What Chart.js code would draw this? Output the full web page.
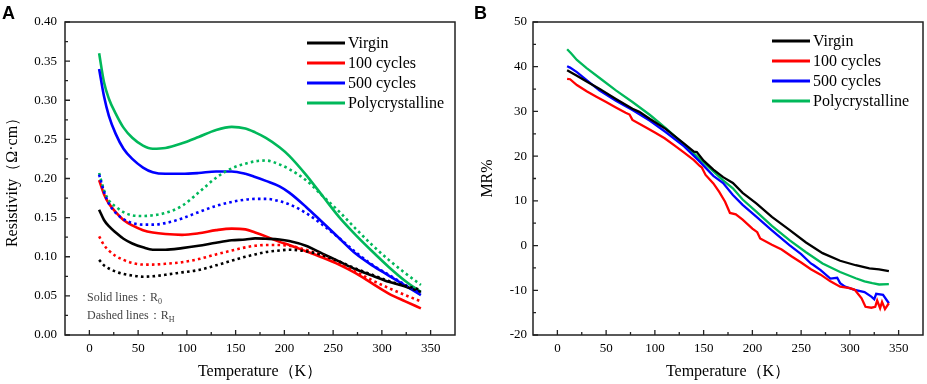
<!DOCTYPE html>
<html>
<head>
<meta charset="utf-8">
<script src="https://cdn.jsdelivr.net/npm/chart.js@4.4.1/dist/chart.umd.min.js"></script>
<style>
  html,body{margin:0;padding:0;background:#fff;}
  body{width:927px;height:384px;position:relative;overflow:hidden;}
  .panel{position:absolute;top:0;}
  .tag{position:absolute;top:3px;line-height:18px;font:bold 18px "Liberation Sans",Arial,sans-serif;color:#000;z-index:2;}
</style>
</head>
<body>
<div class="tag" style="left:2px">A</div>
<div class="tag" style="left:474px">B</div>
<canvas id="chartA" class="panel" style="left:0" width="463" height="384"></canvas>
<canvas id="chartB" class="panel" style="left:463px" width="464" height="384"></canvas>
<script>
// ---- panel A : resistivity vs temperature (solid = R0, dotted = RH)
const tempR = [10, 15, 20, 27, 35, 44, 55, 65, 78, 95, 112, 130, 146, 160, 170, 181, 195, 205, 222, 239, 256, 273, 290, 307, 324, 340];
const virginR0 = [0.160, 0.147, 0.139, 0.131, 0.123, 0.117, 0.112, 0.109, 0.109, 0.111, 0.114, 0.118, 0.121, 0.122, 0.1235, 0.123, 0.122, 0.120, 0.114, 0.104, 0.094, 0.084, 0.076, 0.068, 0.062, 0.055];
const virginRH = [0.096, 0.089, 0.085, 0.081, 0.078, 0.076, 0.0745, 0.075, 0.077, 0.080, 0.083, 0.089, 0.095, 0.100, 0.103, 0.106, 0.108, 0.109, 0.107, 0.102, 0.094, 0.085, 0.077, 0.069, 0.063, 0.0575];
const c100R0 = [0.198, 0.180, 0.168, 0.157, 0.147, 0.140, 0.134, 0.131, 0.129, 0.128, 0.130, 0.134, 0.136, 0.135, 0.131, 0.126, 0.119, 0.115, 0.107, 0.099, 0.090, 0.079, 0.066, 0.053, 0.043, 0.034];
const c100RH = [0.126, 0.115, 0.108, 0.101, 0.096, 0.092, 0.090, 0.090, 0.091, 0.093, 0.097, 0.103, 0.108, 0.112, 0.114, 0.115, 0.115, 0.114, 0.109, 0.102, 0.092, 0.081, 0.070, 0.060, 0.051, 0.043];
const c500R0 = [0.340, 0.305, 0.280, 0.257, 0.238, 0.225, 0.214, 0.208, 0.206, 0.206, 0.207, 0.209, 0.209, 0.206, 0.202, 0.197, 0.190, 0.182, 0.164, 0.144, 0.124, 0.104, 0.089, 0.076, 0.063, 0.051];
const c500RH = [0.205, 0.183, 0.168, 0.156, 0.148, 0.143, 0.141, 0.141, 0.143, 0.149, 0.157, 0.165, 0.170, 0.173, 0.174, 0.174, 0.171, 0.167, 0.156, 0.141, 0.124, 0.106, 0.090, 0.077, 0.064, 0.053];
const polyR0 = [0.360, 0.323, 0.302, 0.283, 0.265, 0.252, 0.242, 0.238, 0.239, 0.245, 0.253, 0.262, 0.266, 0.264, 0.259, 0.252, 0.240, 0.229, 0.205, 0.178, 0.151, 0.128, 0.107, 0.087, 0.069, 0.055];
const polyRH = [0.207, 0.185, 0.172, 0.164, 0.157, 0.153, 0.152, 0.153, 0.156, 0.165, 0.182, 0.201, 0.213, 0.219, 0.222, 0.223, 0.218, 0.212, 0.198, 0.178, 0.158, 0.136, 0.115, 0.096, 0.079, 0.064];

// ---- panel B : MR% vs temperature
const mrTempVirgin = [10, 20, 30, 43, 60, 77, 84, 95, 111, 130, 140, 143, 150, 160, 170, 180, 190, 204, 220, 238, 255, 272, 290, 306, 320, 330, 340];
const mrVirgin = [39.2, 38.0, 36.7, 35.1, 32.8, 30.6, 29.9, 28.3, 26.1, 22.8, 21.0, 20.9, 19.0, 17.0, 15.3, 14.0, 11.8, 9.45, 6.4, 3.5, 0.7, -1.7, -3.4, -4.4, -5.1, -5.3, -5.7];
const mrTemp100 = [10, 13, 20, 30, 40, 50, 60, 70, 74, 77, 90, 100, 110, 120, 130, 140, 146, 148, 152, 160, 166, 172, 177, 183, 190, 200, 205, 208, 220, 230, 240, 250, 260, 270, 280, 290, 300, 305, 312, 316, 322, 326, 328, 331, 333, 336, 340];
const mr100 = [37.3, 37.2, 35.9, 34.5, 33.3, 32.1, 30.9, 29.7, 29.3, 28.1, 26.5, 25.3, 24.0, 22.4, 20.8, 19.1, 17.8, 17.5, 15.8, 13.9, 12.0, 9.8, 7.3, 7.0, 5.8, 3.8, 3.0, 1.6, 0.2, -0.9, -2.4, -3.8, -5.3, -6.5, -8.0, -9.2, -9.5, -9.9, -11.8, -13.7, -13.9, -13.7, -12.3, -14.0, -12.6, -14.2, -12.9];
const mrTemp500 = [10, 13, 20, 30, 43, 60, 77, 95, 111, 130, 145, 160, 170, 180, 190, 204, 220, 238, 250, 260, 263, 270, 280, 287, 290, 295, 305, 315, 322, 325, 327, 334, 340];
const mr500 = [40.1, 39.8, 38.8, 37.0, 34.7, 32.4, 30.3, 27.9, 25.4, 22.2, 19.0, 15.6, 14.0, 11.3, 9.1, 6.45, 3.4, 0.1, -1.9, -4.0, -4.4, -5.5, -7.4, -7.2, -8.4, -9.2, -9.9, -10.4, -11.4, -12.0, -10.8, -11.0, -12.9];
const mrTempPoly = [10, 14, 20, 30, 45, 60, 77, 95, 112, 130, 146, 160, 170, 180, 190, 204, 220, 238, 255, 272, 290, 306, 315, 323, 330, 340];
const mrPoly = [43.9, 43.0, 41.5, 39.7, 37.2, 34.7, 32.1, 29.2, 26.1, 22.6, 19.4, 16.6, 14.6, 12.8, 10.3, 7.6, 4.4, 1.2, -1.5, -4.0, -5.9, -7.3, -8.0, -8.4, -8.7, -8.6];

const seriesNames = ['Virgin', '100 cycles', '500 cycles', 'Polycrystalline'];
const seriesColors = ['#000000', '#ff0000', '#0000ff', '#00b85a'];
const xTicks = [0, 50, 100, 150, 200, 250, 300, 350];
const rhoTicks = [0, 0.05, 0.10, 0.15, 0.20, 0.25, 0.30, 0.35, 0.40];
const mrTicks = [-20, -10, 0, 10, 20, 30, 40, 50];

const serif = '"Liberation Serif", "Times New Roman", serif';
const pts = (xs, ys) => xs.map((x, i) => ({ x: x, y: ys[i] }));

// box around the plot + inward major/minor ticks
const frameTicks = {
  id: 'frameTicks',
  afterDraw(chart) {
    const { ctx, chartArea: a, scales: { x, y } } = chart;
    ctx.save();
    ctx.strokeStyle = '#222';
    ctx.lineWidth = 1.5;
    ctx.strokeRect(a.left, a.top, a.right - a.left, a.bottom - a.top);
    ctx.lineWidth = 1.3;
    const xv = x.ticks.map(t => t.value), yv = y.ticks.map(t => t.value);
    const mids = vs => vs.slice(1).map((v, i) => (v + vs[i]) / 2);
    ctx.beginPath();
    xv.forEach(v => { const p = x.getPixelForValue(v); ctx.moveTo(p, a.bottom); ctx.lineTo(p, a.bottom - 5); });
    mids(xv).forEach(v => { const p = x.getPixelForValue(v); ctx.moveTo(p, a.bottom); ctx.lineTo(p, a.bottom - 3); });
    yv.forEach(v => { const p = y.getPixelForValue(v); ctx.moveTo(a.left, p); ctx.lineTo(a.left + 5, p); });
    mids(yv).forEach(v => { const p = y.getPixelForValue(v); ctx.moveTo(a.left, p); ctx.lineTo(a.left + 3, p); });
    ctx.stroke();
    ctx.restore();
  }
};

// legend drawn inside the plot, only for the solid lines
const panelLegend = {
  id: 'panelLegend',
  afterDraw(chart, args, opts) {
    const { ctx, chartArea: a } = chart;
    const items = chart.data.datasets.filter(ds => !ds.borderDash);
    ctx.save();
    ctx.font = '16px ' + serif;
    ctx.textBaseline = 'middle';
    items.forEach((ds, i) => {
      const yy = opts.top + i * 20;
      const x0 = a.right - opts.fromRight;
      ctx.strokeStyle = ds.borderColor;
      ctx.lineWidth = 3;
      ctx.beginPath(); ctx.moveTo(x0, yy); ctx.lineTo(x0 + 38, yy); ctx.stroke();
      ctx.fillStyle = '#000';
      ctx.fillText(ds.label, x0 + 41, yy + 1);
    });
    ctx.restore();
  }
};

// "Solid lines: R0 / Dashed lines: RH" note in panel A
const notes = {
  id: 'notes',
  afterDraw(chart, args, opts) {
    if (!opts.lines) return;
    const { ctx } = chart;
    ctx.save();
    ctx.fillStyle = '#444';
    opts.lines.forEach(l => {
      ctx.font = '12px ' + serif;
      ctx.fillText(l.text, l.x, l.y);
      const w = ctx.measureText(l.text).width;
      ctx.font = '8px ' + serif;
      ctx.fillText(l.sub, l.x + w, l.y + 3);
    });
    ctx.restore();
  }
};

function axisX() {
  return {
    type: 'linear', min: -25, max: 375,
    afterBuildTicks: s => { s.ticks = xTicks.map(v => ({ value: v })); },
    afterFit: s => { s.height = 49; },
    grid: { display: false, drawTicks: false },
    border: { display: false },
    ticks: { padding: 6, color: '#000', maxRotation: 0, autoSkip: false, font: { family: serif, size: 13 }, callback: v => String(v) },
    title: { display: true, text: 'Temperature（K）', color: '#000', font: { family: serif, size: 16 }, padding: { top: 0, bottom: 3 } }
  };
}

function axisY(min, max, ticks, fmt, width, title, titlePad, pad) {
  return {
    type: 'linear', min: min, max: max,
    afterBuildTicks: s => { s.ticks = ticks.map(v => ({ value: v })); },
    afterFit: s => { s.width = width; },
    grid: { display: false, drawTicks: false },
    border: { display: false },
    ticks: { padding: pad, color: '#000', autoSkip: false, font: { family: serif, size: 13 }, callback: fmt },
    title: { display: true, text: title, color: '#000', font: { family: serif, size: 16 }, padding: { top: titlePad, bottom: 0 } }
  };
}

const rhoSets = [[virginR0, virginRH], [c100R0, c100RH], [c500R0, c500RH], [polyR0, polyRH]];
const dsA = [];
rhoSets.forEach((s, i) => {
  dsA.push({ label: seriesNames[i] + ' RH', data: pts(tempR, s[1]), borderColor: seriesColors[i], borderWidth: 2.6, borderDash: [2.6, 3.2], borderCapStyle: 'butt' });
});
rhoSets.forEach((s, i) => {
  dsA.push({ label: seriesNames[i], data: pts(tempR, s[0]), borderColor: seriesColors[i], borderWidth: 2.6 });
});

new Chart(document.getElementById('chartA'), {
  type: 'line',
  data: { datasets: dsA },
  options: {
    responsive: false, animation: false, devicePixelRatio: 1,
    layout: { padding: { top: 22, right: 8, left: 0, bottom: 0 } },
    elements: { point: { radius: 0 }, line: { cubicInterpolationMode: 'monotone', fill: false } },
    plugins: {
      legend: { display: false }, tooltip: { enabled: false },
      panelLegend: { top: 43, fromRight: 148 },
      notes: { lines: [ { text: 'Solid lines：R', sub: '0', x: 87, y: 301 }, { text: 'Dashed lines：R', sub: 'H', x: 87, y: 319 } ] }
    },
    scales: {
      x: axisX(),
      y: axisY(0, 0.40, rhoTicks, v => v.toFixed(2), 65, 'Resistivity（Ω·cm）', 3, 8)
    }
  },
  plugins: [frameTicks, panelLegend, notes]
});

const mrSets = [[mrTempVirgin, mrVirgin], [mrTemp100, mr100], [mrTemp500, mr500], [mrTempPoly, mrPoly]];
const dsB = mrSets.map((s, i) => ({ label: seriesNames[i], data: pts(s[0], s[1]), borderColor: seriesColors[i], borderWidth: 2.3, tension: 0 }));

new Chart(document.getElementById('chartB'), {
  type: 'line',
  data: { datasets: dsB },
  options: {
    responsive: false, animation: false, devicePixelRatio: 1,
    layout: { padding: { top: 22, right: 4, left: 0, bottom: 0 } },
    elements: { point: { radius: 0 }, line: { fill: false } },
    plugins: {
      legend: { display: false }, tooltip: { enabled: false },
      panelLegend: { top: 41, fromRight: 151 }
    },
    scales: {
      x: axisX(),
      y: axisY(-20, 50, mrTicks, v => String(v), 70, 'MR%', 15, 6)
    }
  },
  plugins: [frameTicks, panelLegend]
});
</script>
</body>
</html>
